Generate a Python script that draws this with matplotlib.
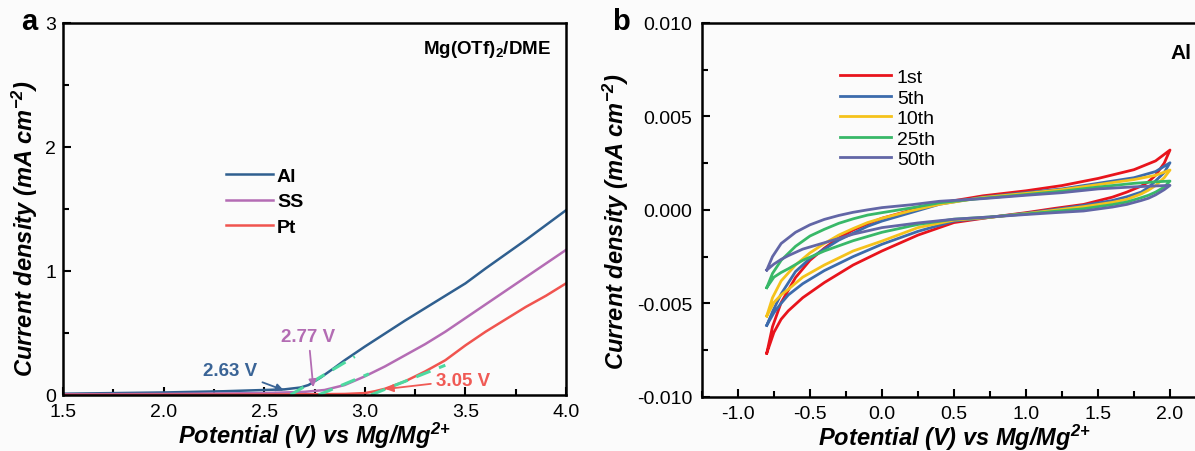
import matplotlib
matplotlib.use("Agg")
import matplotlib.pyplot as plt
import numpy as np
from matplotlib.ticker import MultipleLocator, FormatStrFormatter

plt.rcParams["font.family"] = ["Liberation Sans", "DejaVu Sans"]
plt.rcParams["axes.unicode_minus"] = False
plt.rcParams["mathtext.fontset"] = "custom"
plt.rcParams["mathtext.rm"] = "Liberation Sans:bold:italic"
plt.rcParams["mathtext.it"] = "Liberation Sans:bold:italic"
plt.rcParams["mathtext.bf"] = "Liberation Sans:bold"

# ---- panel a: LSV on different current collectors ----
v_al = [1.5, 2.0, 2.3, 2.5, 2.6, 2.68, 2.72, 2.78, 2.85, 2.9, 3.0, 3.2, 3.4, 3.5, 3.6, 3.8, 4.0]
j_al = [0.01, 0.02, 0.03, 0.04, 0.045, 0.06, 0.08, 0.14, 0.22, 0.28, 0.39, 0.6, 0.8, 0.9, 1.02, 1.25, 1.49]
v_ss = [1.5, 2.0, 2.5, 2.7, 2.8, 2.9, 3.0, 3.1, 3.2, 3.3, 3.4, 3.5, 3.6, 3.7, 3.8, 3.9, 4.0]
j_ss = [0.005, 0.008, 0.015, 0.025, 0.04, 0.08, 0.15, 0.23, 0.32, 0.41, 0.51, 0.62, 0.73, 0.84, 0.95, 1.06, 1.17]
v_pt = [1.5, 2.5, 2.9, 3.0, 3.05, 3.1, 3.2, 3.3, 3.4, 3.5, 3.6, 3.7, 3.8, 3.9, 4.0]
j_pt = [0.0, 0.003, 0.008, 0.015, 0.03, 0.05, 0.11, 0.19, 0.28, 0.40, 0.51, 0.61, 0.71, 0.80, 0.90]

# tangent (onset) lines: start/end points
tan_al_v = [2.63, 2.95]
tan_al_j = [0.0, 0.31]
tan_ss_v = [2.77, 3.02]
tan_ss_j = [0.0, 0.17]
tan_pt_v = [3.03, 3.40]
tan_pt_j = [0.0, 0.24]

# ---- panel b: CV cycles on Al (current in 1e-3 mA cm-2) ----
x_up = [-0.8, -0.76, -0.7, -0.6, -0.5, -0.4, -0.3, -0.2, -0.1, 0.0, 0.2, 0.4, 0.7, 1.0, 1.25, 1.5, 1.75, 1.9, 2.0]
x_down = [2.0, 1.96, 1.9, 1.85, 1.8, 1.7, 1.6, 1.4, 1.2, 1.0, 0.75, 0.5, 0.25, 0.0, -0.2, -0.4, -0.55, -0.65, -0.7, -0.75, -0.8]

up_1 = [-7.67, -6.25, -4.96, -3.62, -2.7, -2.05, -1.5, -1.08, -0.75, -0.45, -0.02, 0.36, 0.75, 1.02, 1.3, 1.68, 2.15, 2.62, 3.2]
dn_1 = [3.2, 2.5, 1.85, 1.5, 1.27, 0.95, 0.68, 0.29, 0.08, -0.15, -0.4, -0.68, -1.35, -2.2, -2.95, -3.89, -4.7, -5.4, -5.85, -6.55, -7.67]
up_5 = [-6.18, -5.45, -4.5, -3.3, -2.6, -2.1, -1.62, -1.25, -0.88, -0.6, -0.15, 0.3, 0.68, 0.92, 1.12, 1.42, 1.72, 2.05, 2.52]
dn_5 = [2.52, 2.0, 1.55, 1.2, 0.95, 0.7, 0.5, 0.24, 0.02, -0.18, -0.4, -0.6, -1.15, -1.84, -2.5, -3.25, -3.95, -4.55, -5.0, -5.5, -6.18]
up_10 = [-5.68, -4.7, -3.8, -2.95, -2.3, -1.8, -1.35, -1.0, -0.68, -0.45, -0.05, 0.3, 0.66, 0.88, 1.08, 1.35, 1.62, 1.85, 2.13]
dn_10 = [2.13, 1.72, 1.3, 1.05, 0.85, 0.56, 0.4, 0.17, -0.02, -0.2, -0.4, -0.55, -0.95, -1.67, -2.2, -2.95, -3.6, -4.25, -4.55, -4.95, -5.68]
up_25 = [-4.16, -3.4, -2.7, -1.95, -1.4, -1.04, -0.72, -0.48, -0.28, -0.15, 0.1, 0.38, 0.62, 0.82, 1.0, 1.22, 1.42, 1.5, 1.54]
dn_25 = [1.54, 1.22, 0.95, 0.78, 0.65, 0.42, 0.28, 0.06, -0.08, -0.22, -0.38, -0.5, -0.78, -1.2, -1.65, -2.2, -2.7, -3.15, -3.35, -3.6, -4.16]
up_50 = [-3.22, -2.5, -1.8, -1.2, -0.8, -0.51, -0.3, -0.13, 0.0, 0.12, 0.27, 0.46, 0.6, 0.78, 0.92, 1.12, 1.23, 1.28, 1.31]
dn_50 = [1.31, 1.08, 0.8, 0.62, 0.5, 0.29, 0.15, -0.06, -0.15, -0.25, -0.38, -0.5, -0.7, -0.95, -1.3, -1.76, -2.1, -2.45, -2.65, -2.9, -3.22]

cycle_labels = ["1st", "5th", "10th", "25th", "50th"]
cycle_colors = ["#e8141c", "#3c6bac", "#f5c21b", "#38b868", "#6266a6"]

fig = plt.figure(figsize=(11.95, 4.52), dpi=100)
fig.patch.set_facecolor("#fbfbfb")

ax1 = fig.add_axes([0.0527, 0.124, 0.421, 0.823])
ax2 = fig.add_axes([0.5874, 0.120, 0.4218, 0.827])

for ax in (ax1, ax2):
    ax.set_facecolor("#fbfbfb")
    for sp in ax.spines.values():
        sp.set_linewidth(1.8)
    ax.tick_params(which="both", direction="in", top=False, right=False,
                   labelsize=14, width=1.5)
    ax.tick_params(which="major", length=6)
    ax.tick_params(which="minor", length=4)
    ax.tick_params(axis="x", pad=6)
    ax.tick_params(axis="y", pad=5)

label_kw = dict(fontsize=17, fontweight="bold", fontstyle="italic")
xlab = r"Potential (V) vs Mg/Mg$^{2{+}}$"
ylab = r"Current density (mA cm$^{-2}$)"

# panel a
ax1.plot(v_al, j_al, color="#2f5f8f", lw=1.8, label="Al")
ax1.plot(v_ss, j_ss, color="#b46cb4", lw=1.8, label="SS")
ax1.plot(v_pt, j_pt, color="#f0544f", lw=1.8, label="Pt")
for tv, tj in ((tan_al_v, tan_al_j), (tan_ss_v, tan_ss_j), (tan_pt_v, tan_pt_j)):
    ax1.plot(tv, tj, color="#4dd9a0", lw=2.2, ls=(0, (5, 3)))

ax1.set_xlim(1.5, 4.0)
ax1.set_ylim(0, 3)
ax1.xaxis.set_major_locator(MultipleLocator(0.5))
ax1.xaxis.set_minor_locator(MultipleLocator(0.25))
ax1.yaxis.set_major_locator(MultipleLocator(1))
ax1.yaxis.set_minor_locator(MultipleLocator(0.5))
ax1.xaxis.set_major_formatter(FormatStrFormatter("%.1f"))
ax1.set_xlabel(xlab, labelpad=0, **label_kw)
ax1.set_ylabel(ylab, **label_kw)
ax1.yaxis.set_label_coords(-0.045, 0.45)

ax1.legend(loc="center left", bbox_to_anchor=(0.29, 0.52), frameon=False,
           handlelength=2.4, handletextpad=0.2, labelspacing=0.4,
           prop=dict(size=14, weight="bold"))

ax1.text(0.97, 0.93, r"Mg(OTf)$_\mathbf{2}$/DME", transform=ax1.transAxes,
         ha="right", va="center", fontsize=13.5, fontweight="bold")

arrow = dict(arrowstyle="-|>", lw=1.3, mutation_scale=11)
ax1.annotate("2.63 V", xy=(2.61, 0.03), xytext=(2.33, 0.2), ha="center", va="center",
             color="#3a6496", fontsize=13.5, fontweight="bold",
             arrowprops=dict(color="#3a6496", **arrow))
ax1.annotate("2.77 V", xy=(2.745, 0.04), xytext=(2.72, 0.47), ha="center", va="center",
             color="#b36cb3", fontsize=13.5, fontweight="bold",
             arrowprops=dict(color="#b36cb3", **arrow))
ax1.annotate("3.05 V", xy=(3.09, 0.045), xytext=(3.49, 0.12), ha="center", va="center",
             color="#f05a55", fontsize=13.5, fontweight="bold",
             arrowprops=dict(color="#f05a55", **arrow))

fig.text(0.018, 0.952, "a", fontsize=21, fontweight="bold", va="center", ha="left")

# panel b
ups = [up_1, up_5, up_10, up_25, up_50]
dns = [dn_1, dn_5, dn_10, dn_25, dn_50]
for up, dn, lab, col in zip(ups, dns, cycle_labels, cycle_colors):
    xs = np.array(x_up + x_down)
    ys = np.array(up + dn) * 1e-3
    ax2.plot(xs, ys, color=col, lw=2.0, label=lab, solid_joinstyle="round")

ax2.set_xlim(-1.25, 2.25)
ax2.set_ylim(-0.010, 0.010)
ax2.xaxis.set_major_locator(MultipleLocator(0.5))
ax2.xaxis.set_minor_locator(MultipleLocator(0.25))
ax2.yaxis.set_major_locator(MultipleLocator(0.005))
ax2.yaxis.set_minor_locator(MultipleLocator(0.0025))
ax2.xaxis.set_major_formatter(FormatStrFormatter("%.1f"))
ax2.yaxis.set_major_formatter(FormatStrFormatter("%.3f"))
ax2.tick_params(axis="y", pad=7)
ax2.set_xlabel(xlab, labelpad=0, **label_kw)
ax2.set_ylabel(ylab, **label_kw)
ax2.yaxis.set_label_coords(-0.14, 0.47)

ax2.legend(loc="upper left", bbox_to_anchor=(0.24, 0.925), frameon=False,
           handlelength=2.6, handletextpad=0.3, labelspacing=0.15,
           prop=dict(size=14))

ax2.text(0.95, 0.92, "Al", transform=ax2.transAxes, ha="center", va="center",
         fontsize=15, fontweight="bold")

fig.text(0.512, 0.952, "b", fontsize=21, fontweight="bold", va="center", ha="left")

fig.savefig("out.png", dpi=100, facecolor=fig.get_facecolor())
